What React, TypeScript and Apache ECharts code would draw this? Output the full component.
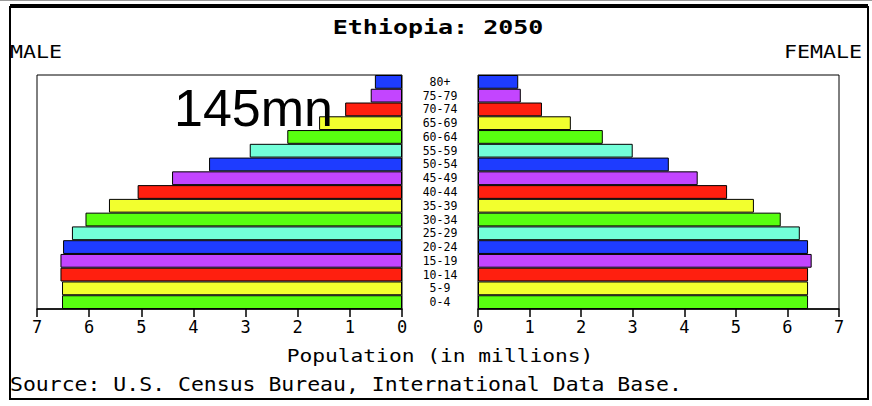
import React, { useEffect, useRef } from "react";
import * as echarts from "echarts";

const ageGroups = ["0-4", "5-9", "10-14", "15-19", "20-24", "25-29", "30-34", "35-39", "40-44", "45-49", "50-54", "55-59", "60-64", "65-69", "70-74", "75-79", "80+"];
const maleValues = [6.52, 6.52, 6.55, 6.55, 6.5, 6.33, 6.07, 5.62, 5.07, 4.41, 3.7, 2.92, 2.2, 1.59, 1.09, 0.6, 0.52];
const femaleValues = [6.4, 6.4, 6.4, 6.47, 6.4, 6.24, 5.87, 5.35, 4.83, 4.26, 3.7, 3.0, 2.42, 1.8, 1.24, 0.83, 0.78];
const palette = ["#58ff10", "#f2ff2e", "#ff1f0f", "#c345ff", "#1e3cff", "#73ffd9"];

const MONO = "DejaVu Sans Mono";

export default function App() {
  const ref = useRef<HTMLDivElement>(null);
  useEffect(() => {
    if (!ref.current) return;
    const chart = echarts.init(ref.current, null, { renderer: "svg" });
    const barItem = {
      color: (p: any) => palette[p.dataIndex % palette.length],
      borderColor: "#000",
      borderWidth: 1,
    };
    const xCommon = {
      type: "value" as const,
      min: 0,
      max: 7,
      interval: 1,
      splitLine: { show: false },
      axisLine: { show: true, lineStyle: { color: "#000", width: 1.5 } },
      axisTick: { show: true, length: 8, lineStyle: { color: "#000", width: 1.5 } },
      axisLabel: { color: "#000", fontFamily: MONO, fontSize: 17, margin: 9 },
    };
    chart.setOption({
      animation: false,
      backgroundColor: "#fff",
      grid: [
        { left: 37, width: 365, top: 75, height: 234, show: true, borderColor: "#000", borderWidth: 1, backgroundColor: "#fff" },
        { left: 478, width: 361, top: 75, height: 234, show: true, borderColor: "#000", borderWidth: 1, backgroundColor: "#fff" },
      ],
      xAxis: [
        { ...xCommon, gridIndex: 0, inverse: true },
        { ...xCommon, gridIndex: 1 },
      ],
      yAxis: [
        {
          type: "category",
          gridIndex: 0,
          data: ageGroups,
          position: "right",
          axisLine: { show: false },
          axisTick: { show: false },
          axisLabel: { show: true, interval: 0, hideOverlap: false, color: "#000", fontFamily: MONO, fontSize: 11.5, lineHeight: 12, align: "center", margin: 38 },
        },
        {
          type: "category",
          gridIndex: 1,
          data: ageGroups,
          axisLine: { show: false },
          axisTick: { show: false },
          axisLabel: { show: false },
        },
      ],
      series: [
        {
          type: "bar",
          xAxisIndex: 0,
          yAxisIndex: 0,
          data: maleValues,
          barCategoryGap: "0%",
          itemStyle: barItem,
        },
        {
          type: "bar",
          xAxisIndex: 1,
          yAxisIndex: 1,
          data: femaleValues,
          barCategoryGap: "0%",
          itemStyle: barItem,
        },
      ],
      graphic: [
        {
          type: "rect",
          shape: { x: 10, y: 7, width: 858, height: 392 },
          style: { fill: "none", stroke: "#000", lineWidth: 2 },
          z: 100,
        },
        {
          type: "line",
          shape: { x1: 10, y1: 6, x2: 868, y2: 6 },
          style: { stroke: "#000", lineWidth: 4 },
          z: 100,
        },
        {
          type: "line",
          shape: { x1: 0, y1: 0.5, x2: 872, y2: 0.5 },
          style: { stroke: "#999", lineWidth: 1 },
          z: 100,
        },
        {
          type: "text",
          x: 438,
          y: 27,
          scaleX: 1.25,
          style: { text: "Ethiopia: 2050", font: `bold 20px '${MONO}'`, fill: "#000", textAlign: "center", textVerticalAlign: "middle" },
          z: 100,
        },
        {
          type: "text",
          x: 10,
          y: 52,
          scaleX: 1.27,
          style: { text: "MALE", font: `17px '${MONO}'`, fill: "#000", textAlign: "left", textVerticalAlign: "middle" },
          z: 100,
        },
        {
          type: "text",
          x: 862,
          y: 52,
          scaleX: 1.27,
          style: { text: "FEMALE", font: `17px '${MONO}'`, fill: "#000", textAlign: "right", textVerticalAlign: "middle" },
          z: 100,
        },
        {
          type: "text",
          x: 440,
          y: 356,
          scaleX: 1.18,
          style: { text: "Population (in millions)", font: `18px '${MONO}'`, fill: "#000", textAlign: "center", textVerticalAlign: "middle" },
          z: 100,
        },
        {
          type: "text",
          x: 10,
          y: 384,
          scaleX: 1.13,
          style: { text: "Source: U.S. Census Bureau, International Data Base.", font: `19px '${MONO}'`, fill: "#000", textAlign: "left", textVerticalAlign: "middle" },
          z: 100,
        },
        {
          type: "text",
          x: 174,
          y: 108,
          style: { text: "145mn", font: "52px 'Liberation Sans'", fill: "#000", textAlign: "left", textVerticalAlign: "middle" },
          z: 100,
        },
      ],
    });
    return () => chart.dispose();
  }, []);
  return <div ref={ref} style={{ width: 872, height: 406, position: "absolute", left: 0, top: 0 }} />;
}
